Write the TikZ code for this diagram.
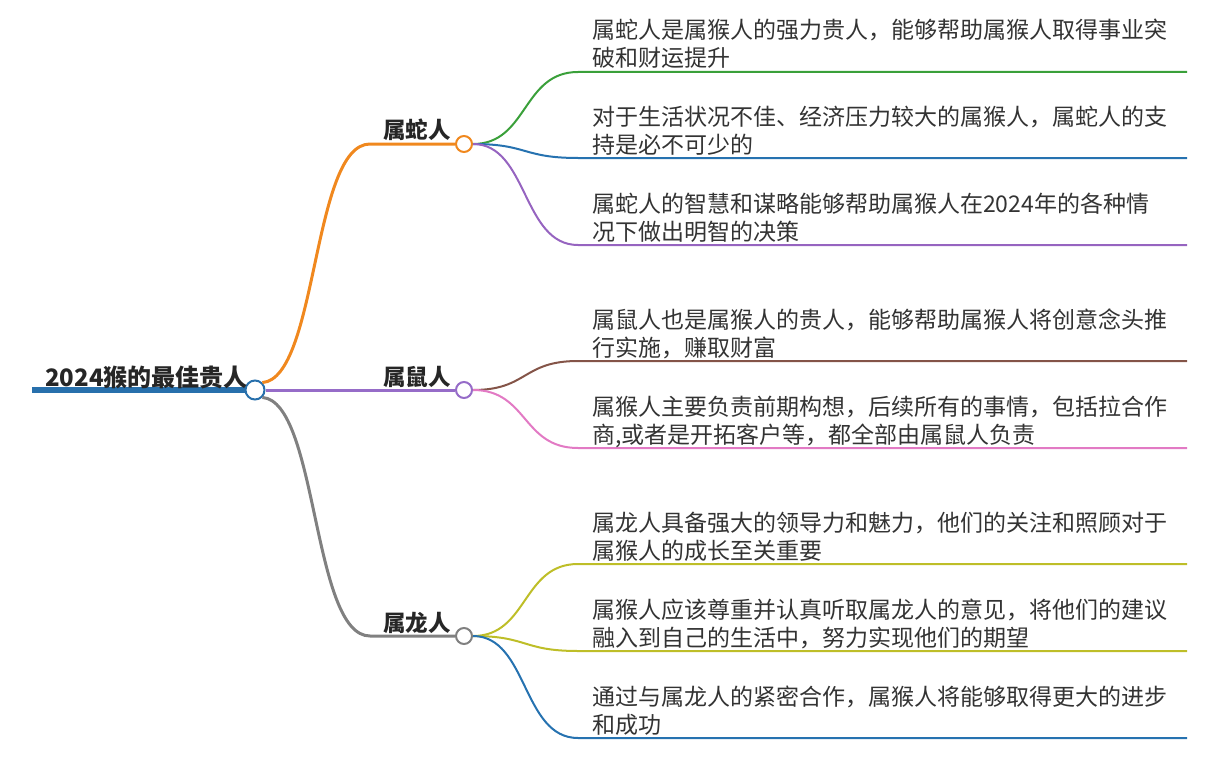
\documentclass[tikz,border=0pt]{standalone}
\usepackage{fontspec}
\setmainfont{Noto Sans CJK SC}
\newfontfamily\cjkfont{Noto Sans CJK SC}
\usepackage{xcolor}
\usepackage{tikz}
\usetikzlibrary{positioning}

\definecolor{rootblue}{RGB}{40,112,172}
\definecolor{snakeorange}{RGB}{240,136,30}
\definecolor{ratpurple}{RGB}{150,108,200}
\definecolor{dragongray}{RGB}{128,128,128}
\definecolor{leafgreen}{RGB}{58,160,58}
\definecolor{leafblue}{RGB}{38,114,176}
\definecolor{leafpurple}{RGB}{150,100,192}
\definecolor{leafbrown}{RGB}{132,84,72}
\definecolor{leafpink}{RGB}{226,122,196}
\definecolor{leafolive}{RGB}{190,190,40}
\definecolor{txtgray}{RGB}{51,51,51}

\begin{document}
\begin{tikzpicture}[
  x=1pt, y=-1pt,
  hub/.style={circle, draw, fill=white, line width=2pt, minimum size=16pt, inner sep=0pt},
  topic/.style={anchor=base west, inner sep=0pt, text=black!85, font=\cjkfont\bfseries\fontsize{22.5}{26}\selectfont},
  leaf/.style={anchor=base west, inner sep=0pt, align=left, text=txtgray, font=\cjkfont\fontsize{23}{28}\selectfont},
  twig/.style={line width=2pt},
  limb/.style={line width=3pt},
]
\useasboundingbox (0,0) rectangle (1214,765);

% Root
\coordinate (r0) at (32,390);
\node[hub, draw=rootblue, minimum size=19pt] (c0) at (255,390) {};
\draw[rootblue, line width=6pt] (r0) -- (c0.west);
\node[topic, font=\cjkfont\bfseries\fontsize{24}{28}\selectfont] (root) at (45,386) {2024猴的最佳贵人};

% Main branches
\coordinate (k1) at (370,144);
\coordinate (k3) at (370,636);
\node[hub, draw=snakeorange] (c1) at (464,144) {};
\node[hub, draw=ratpurple] (c2) at (464,390) {};
\node[hub, draw=dragongray] (c3) at (464,636) {};

\draw[limb, snakeorange] (c0.north east) .. controls (318,378) and (312,144) .. (k1) -- (c1.west);
\draw[limb, ratpurple] (c0.east) -- (c2.west);
\draw[limb, dragongray] (c0.south east) .. controls (318,402) and (312,636) .. (k3) -- (c3.west);

\node[topic] (b1) at (383,139) {属蛇人};
\node[topic] (b2) at (383,385) {属鼠人};
\node[topic] (b3) at (383,631) {属龙人};

% Leaves of snake (node base = last line)
\coordinate (e11) at (578,72);   \coordinate (f11) at (1187,72);
\coordinate (e12) at (578,158);  \coordinate (f12) at (1187,158);
\coordinate (e13) at (578,245);  \coordinate (f13) at (1187,245);
\draw[twig, leafgreen] (c1.east) .. controls (528,144) and (522,72) .. (e11) -- (f11);
\draw[twig, leafblue] (c1.east) .. controls (528,144) and (522,158) .. (e12) -- (f12);
\draw[twig, leafpurple] (c1.east) .. controls (528,144) and (522,245) .. (e13) -- (f13);
\node[leaf] (l11) at (592,67) {属蛇人是属猴人的强力贵人，能够帮助属猴人取得事业突\\破和财运提升};
\node[leaf] (l12) at (592,153) {对于生活状况不佳、经济压力较大的属猴人，属蛇人的支\\持是必不可少的};
\node[leaf] (l13) at (592,240) {属蛇人的智慧和谋略能够帮助属猴人在2024年的各种情\\况下做出明智的决策};

% Leaves of rat
\coordinate (e21) at (578,361);  \coordinate (f21) at (1187,361);
\coordinate (e22) at (578,448);  \coordinate (f22) at (1187,448);
\draw[twig, leafbrown] (c2.east) .. controls (528,390) and (522,361) .. (e21) -- (f21);
\draw[twig, leafpink] (c2.east) .. controls (528,390) and (522,448) .. (e22) -- (f22);
\node[leaf] (l21) at (592,356) {属鼠人也是属猴人的贵人，能够帮助属猴人将创意念头推\\行实施，赚取财富};
\node[leaf] (l22) at (592,443) {属猴人主要负责前期构想，后续所有的事情，包括拉合作\\商,或者是开拓客户等，都全部由属鼠人负责};

% Leaves of dragon
\coordinate (e31) at (578,564);  \coordinate (f31) at (1187,564);
\coordinate (e32) at (578,651);  \coordinate (f32) at (1187,651);
\coordinate (e33) at (578,738);  \coordinate (f33) at (1187,738);
\draw[twig, leafolive] (c3.east) .. controls (528,636) and (522,564) .. (e31) -- (f31);
\draw[twig, leafolive] (c3.east) .. controls (528,636) and (522,651) .. (e32) -- (f32);
\draw[twig, leafblue] (c3.east) .. controls (528,636) and (522,738) .. (e33) -- (f33);
\node[leaf] (l31) at (592,559) {属龙人具备强大的领导力和魅力，他们的关注和照顾对于\\属猴人的成长至关重要};
\node[leaf] (l32) at (592,646) {属猴人应该尊重并认真听取属龙人的意见，将他们的建议\\融入到自己的生活中，努力实现他们的期望};
\node[leaf] (l33) at (592,733) {通过与属龙人的紧密合作，属猴人将能够取得更大的进步\\和成功};

\end{tikzpicture}
\end{document}
